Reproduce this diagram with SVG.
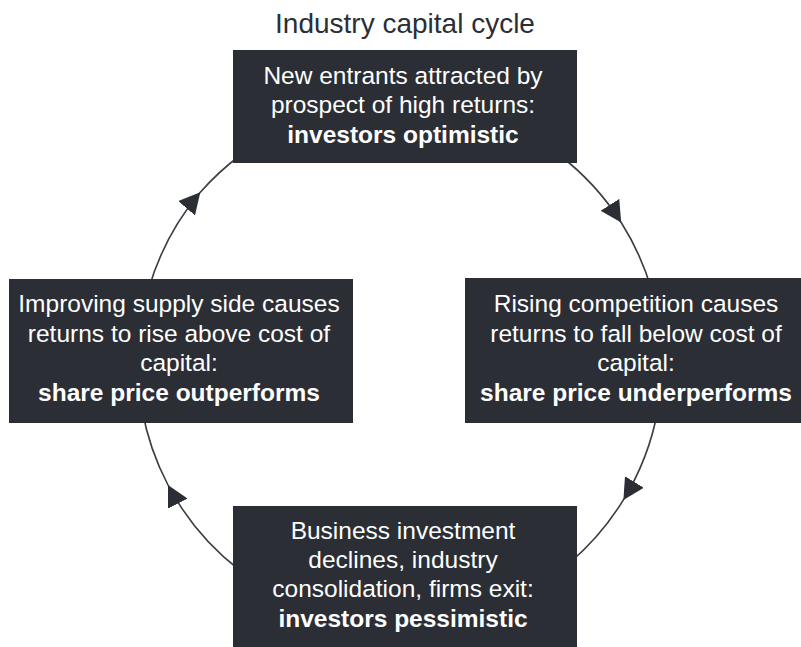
<svg xmlns="http://www.w3.org/2000/svg" width="801" height="647" viewBox="0 0 801 647">
<defs>
<style>
.box{fill:#2b2e35;}
.t{font-family:"Liberation Sans",Arial,sans-serif;font-size:24.5px;fill:#ffffff;text-anchor:middle;}
.b{font-weight:bold;}
.title{font-family:"Liberation Sans",Arial,sans-serif;font-size:28px;fill:#2b2e35;text-anchor:middle;}
.conn{fill:none;stroke:#3a3d44;stroke-width:1.6;marker-mid:url(#arr);}
</style>
<marker id="arr" markerUnits="userSpaceOnUse" markerWidth="24" markerHeight="24" refX="21" refY="11" orient="auto" viewBox="0 0 24 24">
<path d="M0,0 L21,11 L0,22 Z" fill="#2b2e35"/>
</marker>
</defs>
<rect width="801" height="647" fill="#ffffff"/>
<text class="title" x="405" y="33">Industry capital cycle</text>
<g id="connectors">
<path class="conn" d="M148.4,290 A262,262 0 0 1 200.3,192.3 A262,262 0 0 1 240.7,155"/>
<path class="conn" d="M559.3,155 A262,262 0 0 1 621.2,222.5 A262,262 0 0 1 651.6,290"/>
<path class="conn" d="M657.8,410 A262,262 0 0 1 623.4,499.9 A262,262 0 0 1 570,562.4"/>
<path class="conn" d="M240,570.5 A262,262 0 0 1 168,485 A262,262 0 0 1 142.2,410"/>
</g>
<g id="node-top">
<rect class="box" x="233" y="50" width="344" height="113"/>
<text class="t" x="403" y="84">New entrants attracted by</text>
<text class="t" x="403" y="113">prospect of high returns:</text>
<text class="t b" x="403" y="143">investors optimistic</text>
</g>
<g id="node-left">
<rect class="box" x="9" y="279" width="344" height="144"/>
<text class="t" x="179" y="312">Improving supply side causes</text>
<text class="t" x="179" y="342">returns to rise above cost of</text>
<text class="t" x="179" y="371">capital:</text>
<text class="t b" x="179" y="401">share price outperforms</text>
</g>
<g id="node-right">
<rect class="box" x="465" y="278" width="344" height="145"/>
<text class="t" x="636" y="312">Rising competition causes</text>
<text class="t" x="636" y="342">returns to fall below cost of</text>
<text class="t" x="636" y="371">capital:</text>
<text class="t b" x="636" y="401">share price underperforms</text>
</g>
<g id="node-bottom">
<rect class="box" x="233" y="506" width="344" height="145"/>
<text class="t" x="403" y="539">Business investment</text>
<text class="t" x="403" y="568">declines, industry</text>
<text class="t" x="403" y="597">consolidation, firms exit:</text>
<text class="t b" x="403" y="627">investors pessimistic</text>
</g>
</svg>
